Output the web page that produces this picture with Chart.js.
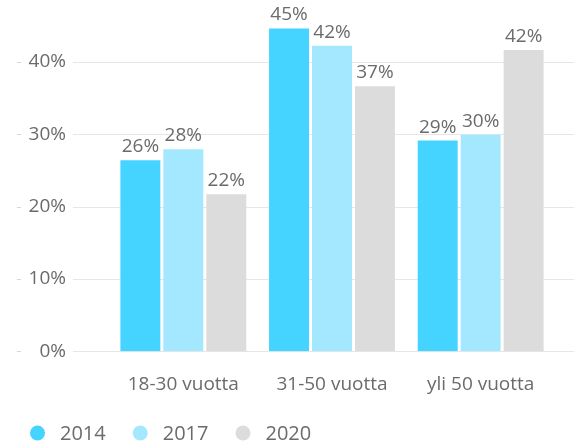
<!DOCTYPE html>
<html>
<head>
<meta charset="utf-8">
<script src="https://cdn.jsdelivr.net/npm/chart.js@4/dist/chart.umd.min.js"></script>
<style>
html,body{margin:0;padding:0;background:#fff;}
#c{display:block;}
</style>
</head>
<body>
<canvas id="c" width="574" height="446"></canvas>
<script>
const categories = ["18-30 vuotta", "31-50 vuotta", "yli 50 vuotta"];
const seriesNames = ["2014", "2017", "2020"];
const values2014 = [26.4, 44.6, 29.1];
const values2017 = [27.9, 42.2, 29.9];
const values2020 = [21.7, 36.6, 41.6];
const yTicks = [0, 10, 20, 30, 40];
const colors = ["#45D4FF", "#A3E8FF", "#DCDCDC"];

const FONT = "'Open Sans', 'DejaVu Sans', sans-serif";
const TEXT = "#6b6b6b";

const gridPlugin = {
  id: 'gridPlugin',
  beforeDatasetsDraw(chart) {
    const ctx = chart.ctx, y = chart.scales.y;
    ctx.save();
    y.ticks.forEach(t => {
      const py = Math.round(y.getPixelForValue(t.value)) + 0.5;
      ctx.strokeStyle = '#e6e6e6';
      ctx.lineWidth = 1;
      ctx.beginPath(); ctx.moveTo(73, py); ctx.lineTo(574, py); ctx.stroke();
      ctx.strokeStyle = '#d6d6d6';
      ctx.beginPath(); ctx.moveTo(17, py); ctx.lineTo(21, py); ctx.stroke();
    });
    ctx.restore();
  }
};

const labelPlugin = {
  id: 'labelPlugin',
  afterDatasetsDraw(chart) {
    const ctx = chart.ctx;
    ctx.save();
    ctx.font = "19px " + FONT;
    ctx.fillStyle = TEXT;
    ctx.textAlign = 'center';
    ctx.textBaseline = 'alphabetic';
    chart.data.datasets.forEach((ds, i) => {
      chart.getDatasetMeta(i).data.forEach((bar, j) => {
        ctx.fillText(Math.round(ds.data[j]) + '%', bar.x, bar.y - 8);
      });
    });
    ctx.restore();
  }
};

const legendPlugin = {
  id: 'legendPlugin',
  afterDraw(chart) {
    const ctx = chart.ctx;
    ctx.save();
    ctx.font = "20px " + FONT;
    ctx.textBaseline = 'middle';
    ctx.textAlign = 'left';
    let x = 30; const cy = 433;
    chart.data.datasets.forEach(ds => {
      ctx.fillStyle = ds.backgroundColor;
      ctx.beginPath(); ctx.arc(x + 7.5, cy, 7.5, 0, Math.PI * 2); ctx.fill();
      ctx.fillStyle = TEXT;
      ctx.fillText(ds.label, x + 30, cy + 1);
      x = x + 30 + ctx.measureText(ds.label).width + 27;
    });
    ctx.restore();
  }
};

const datasets = [values2014, values2017, values2020].map((v, i) => ({
  label: seriesNames[i],
  data: v,
  backgroundColor: colors[i],
  borderWidth: 0,
  categoryPercentage: 0.867,
  barPercentage: 0.93
}));

new Chart(document.getElementById('c'), {
  type: 'bar',
  data: { labels: categories, datasets },
  options: {
    responsive: false,
    animation: false,
    devicePixelRatio: 1,
    layout: { padding: { top: 25.5, right: 19, left: 0, bottom: 0 } },
    plugins: { legend: { display: false }, tooltip: { enabled: false } },
    scales: {
      x: {
        grid: { display: false, drawTicks: false },
        border: { display: false },
        ticks: { font: { size: 19, family: FONT }, color: TEXT, padding: 22, maxRotation: 0 },
        afterFit(s) { s.height = 446 - 351.3; s.paddingLeft = 0; s.paddingRight = 0; }
      },
      y: {
        min: 0, max: 45,
        grid: { display: false, drawTicks: false },
        border: { display: false },
        afterBuildTicks(s) { s.ticks = yTicks.map(v => ({ value: v })); },
        ticks: {
          font: { size: 19, family: FONT }, color: TEXT, padding: 43,
          callback: v => v + '%'
        },
        afterFit(s) { s.width = 109; s.paddingTop = 0; s.paddingBottom = 0; }
      }
    }
  },
  plugins: [gridPlugin, labelPlugin, legendPlugin]
});
</script>
</body>
</html>
